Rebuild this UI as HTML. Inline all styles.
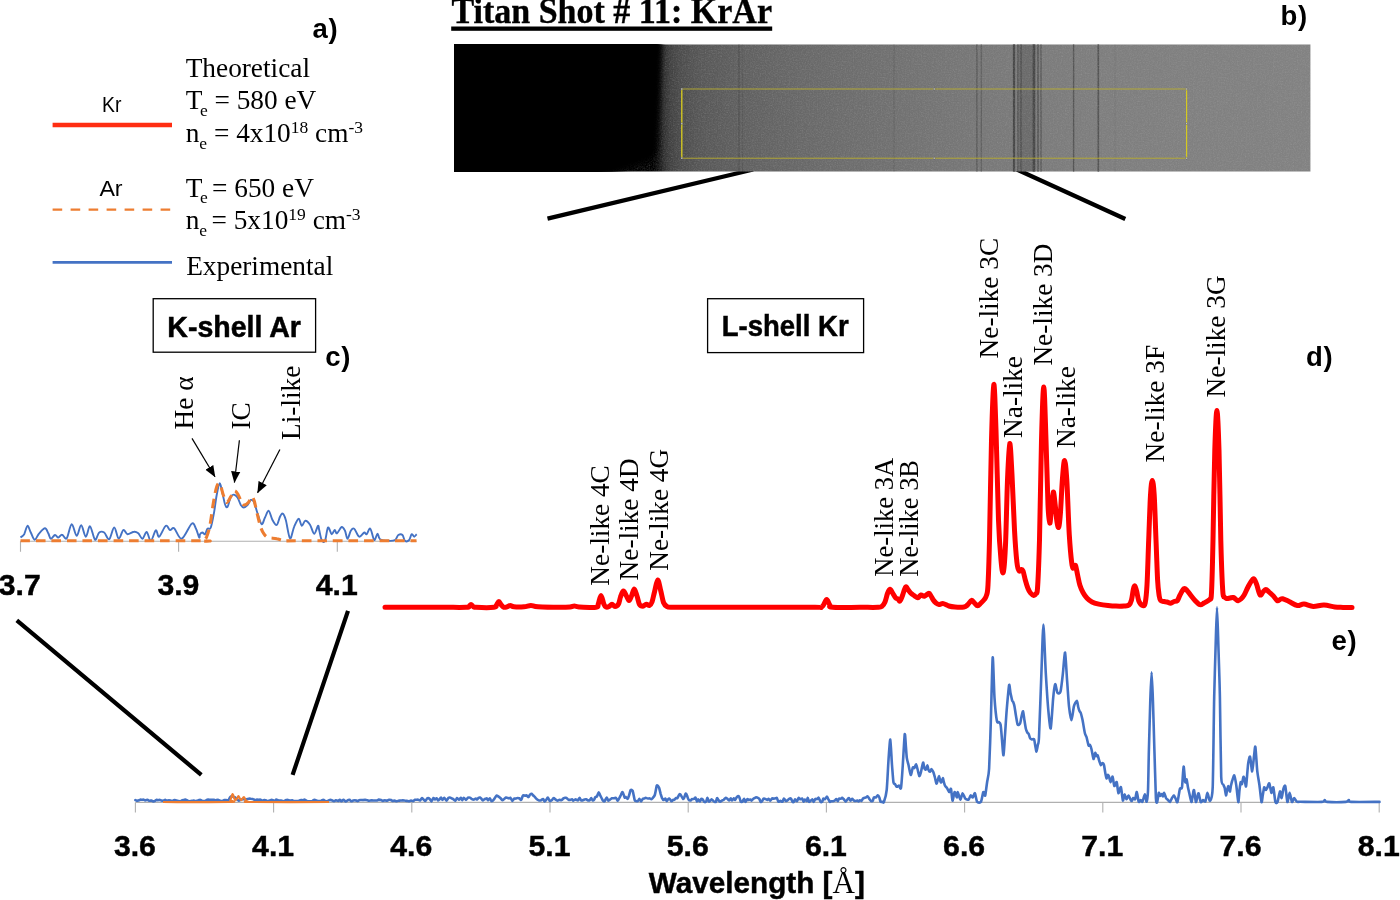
<!DOCTYPE html>
<html lang="en"><head><meta charset="utf-8"><title>Titan Shot # 11: KrAr</title>
<style>html,body{margin:0;padding:0;background:#fff;overflow:hidden}svg{display:block}</style></head>
<body>
<svg width="1400" height="900" viewBox="0 0 1400 900">
<defs>
<linearGradient id="gstrip" gradientUnits="userSpaceOnUse" x1="654" y1="0" x2="1310" y2="0">
<stop offset="0.0000" stop-color="#000000"/><stop offset="0.0076" stop-color="#141414"/><stop offset="0.0152" stop-color="#303030"/><stop offset="0.0244" stop-color="#404040"/><stop offset="0.0396" stop-color="#4c4c4c"/><stop offset="0.0701" stop-color="#575757"/><stop offset="0.1311" stop-color="#606060"/><stop offset="0.2226" stop-color="#686868"/><stop offset="0.2988" stop-color="#6d6d6d"/><stop offset="0.4055" stop-color="#737373"/><stop offset="0.5274" stop-color="#797979"/><stop offset="0.6799" stop-color="#7e7e7e"/><stop offset="1.0000" stop-color="#828282"/>
</linearGradient>
<filter id="grain" x="0" y="0" width="100%" height="100%"><feTurbulence type="fractalNoise" baseFrequency="0.75" numOctaves="2" seed="3" result="n"/><feColorMatrix type="matrix" values="0 0 0 0 0.5  0 0 0 0 0.5  0 0 0 0 0.5  0.6 0.6 0.6 0 -0.75"/></filter>
<filter id="soft"><feGaussianBlur stdDeviation="2.6"/></filter><filter id="soft1"><feGaussianBlur stdDeviation="1"/></filter><filter id="soft2"><feGaussianBlur stdDeviation="0.5"/></filter>
<clipPath id="cstrip"><rect x="454.2" y="44.4" width="856.2" height="127.1"/></clipPath>
<marker id="ah" markerWidth="12" markerHeight="10" refX="11" refY="5" orient="auto" markerUnits="userSpaceOnUse"><path d="M0,0.4L11.5,5L0,9.6Z" fill="#000"/></marker>
</defs>
<rect width="1400" height="900" fill="#fff"/>
<text x="451.4" y="23.2" font-family="Liberation Serif, serif" font-weight="bold" font-size="35.3" stroke="#000" stroke-width="0.35" textLength="320.6" lengthAdjust="spacingAndGlyphs">Titan Shot # 11: KrAr</text>
<rect x="451.2" y="26.5" width="321" height="4.3" fill="#000"/>
<text x="1280.6" y="25.3" font-family="Liberation Sans, sans-serif" font-weight="bold" font-size="27.5" letter-spacing="0.7">b)</text>
<text x="312.4" y="38.2" font-family="Liberation Sans, sans-serif" font-weight="bold" font-size="27.5" letter-spacing="0.7">a)</text>
<text x="325.2" y="366" font-family="Liberation Sans, sans-serif" font-weight="bold" font-size="27.5" letter-spacing="0.7">c)</text>
<text x="1306" y="366.4" font-family="Liberation Sans, sans-serif" font-weight="bold" font-size="27.5" letter-spacing="0.7">d)</text>
<text x="1331.6" y="649.6" font-family="Liberation Sans, sans-serif" font-weight="bold" font-size="27.5" letter-spacing="0.7">e)</text>
<path d="M753.2,169.5L547.5,218.6M1013.8,168.1L1125.3,219" stroke="#000" stroke-width="4.3" fill="none"/>
<g clip-path="url(#cstrip)">
<rect x="454" y="44" width="857" height="128" fill="url(#gstrip)"/>
<g filter="url(#soft2)">
<rect x="738.0" y="30" width="2" height="160" fill="#000" opacity="0.1"/>
<rect x="742.0" y="30" width="1" height="160" fill="#000" opacity="0.08"/>
<rect x="893.4" y="30" width="1.2" height="160" fill="#000" opacity="0.1"/>
<rect x="976.3" y="30" width="1.2" height="160" fill="#000" opacity="0.28"/>
<rect x="980.7" y="30" width="1.2" height="160" fill="#000" opacity="0.22"/>
<rect x="1012.9" y="30" width="2.2" height="160" fill="#000" opacity="0.42"/>
<rect x="1017.2" y="30" width="1.5" height="160" fill="#000" opacity="0.3"/>
<rect x="1020.4" y="30" width="1.2" height="160" fill="#000" opacity="0.3"/>
<rect x="1019.0" y="30" width="14" height="160" fill="#000" opacity="0.13"/>
<rect x="1032.7" y="30" width="2.6" height="160" fill="#000" opacity="0.42"/>
<rect x="1037.2" y="30" width="1.6" height="160" fill="#000" opacity="0.3"/>
<rect x="1040.3" y="30" width="1.4" height="160" fill="#000" opacity="0.26"/>
<rect x="1072.9" y="30" width="1.4" height="160" fill="#000" opacity="0.32"/>
<rect x="1097.5" y="30" width="1.6" height="160" fill="#000" opacity="0.34"/>
<rect x="1114.5" y="30" width="1" height="160" fill="#000" opacity="0.06"/>
</g>
<rect x="454" y="44" width="857" height="128" filter="url(#grain)" opacity="0.38"/>
<path d="M440,30H662L659.5,100L657,148Q656.5,158 646,162L610,174.5H440Z" fill="#000" filter="url(#soft)"/>
<path d="M440,30H656.5L654,100L651.5,144Q651,154 640,158L596,174H440Z" fill="#000" filter="url(#soft1)"/>
<rect x="681.8" y="89" width="504.8" height="69.2" fill="none" stroke="#b9ad2f" stroke-width="0.9"/>
<path d="M681.8,89V158.2M1186.6,89V158.2" stroke="#d8cc20" stroke-width="1.1" fill="none"/>
<circle cx="934.2" cy="89" r="0.9" fill="#ddd" stroke="#444" stroke-width="0.4"/>
<circle cx="934.2" cy="158.2" r="0.9" fill="#ddd" stroke="#444" stroke-width="0.4"/>
<circle cx="681.8" cy="123.6" r="0.9" fill="#ddd" stroke="#444" stroke-width="0.4"/>
<circle cx="1186.6" cy="123.6" r="0.9" fill="#ddd" stroke="#444" stroke-width="0.4"/>
<circle cx="681.8" cy="89" r="0.9" fill="#ddd" stroke="#444" stroke-width="0.4"/>
<circle cx="681.8" cy="158.2" r="0.9" fill="#ddd" stroke="#444" stroke-width="0.4"/>
<circle cx="1186.6" cy="89" r="0.9" fill="#ddd" stroke="#444" stroke-width="0.4"/>
<circle cx="1186.6" cy="158.2" r="0.9" fill="#ddd" stroke="#444" stroke-width="0.4"/>
</g>
<path d="M16.8,620.3L201.3,774.8M348,610.8L292.6,774.8" stroke="#000" stroke-width="4.2" fill="none"/>
<path d="M52.6,125H172" stroke="#ff2e12" stroke-width="4.6"/>
<path d="M52.6,209.7H170.5" stroke="#ed7d31" stroke-width="2.3" stroke-dasharray="9.6 8.4"/>
<path d="M52.6,262.4H172" stroke="#4472c4" stroke-width="2.6"/>
<text x="102" y="111.6" font-family="Liberation Sans, sans-serif" font-size="22.5" textLength="19.4" lengthAdjust="spacingAndGlyphs">Kr</text>
<text x="99.4" y="195.8" font-family="Liberation Sans, sans-serif" font-size="22.5" textLength="23.2" lengthAdjust="spacingAndGlyphs">Ar</text>
<text x="185.7" y="76.9" font-family="Liberation Serif, serif" font-size="27.3">Theoretical</text>
<text x="185.7" y="109" font-family="Liberation Serif, serif" font-size="27.3">T<tspan font-size="17.5" dy="6.5" dx="-2.5">e</tspan><tspan dy="-6.5"> = 580 eV</tspan></text>
<text x="185.7" y="142.4" font-family="Liberation Serif, serif" font-size="27.3">n<tspan font-size="17.5" dy="6.5">e</tspan><tspan dy="-6.5"> = 4x10</tspan><tspan font-size="17.5" dy="-9">18</tspan><tspan dy="9"> cm</tspan><tspan font-size="17.5" dy="-9">-3</tspan></text>
<text x="185.7" y="196.8" font-family="Liberation Serif, serif" font-size="27.3">T<tspan font-size="17.5" dy="6.5" dx="-2.5">e </tspan><tspan dy="-6.5">= 650 eV</tspan></text>
<text x="185.7" y="229.2" font-family="Liberation Serif, serif" font-size="27.3">n<tspan font-size="17.5" dy="6.5">e </tspan><tspan dy="-6.5">= 5x10</tspan><tspan font-size="17.5" dy="-9">19</tspan><tspan dy="9"> cm</tspan><tspan font-size="17.5" dy="-9">-3</tspan></text>
<text x="186.2" y="274.7" font-family="Liberation Serif, serif" font-size="27.3">Experimental</text>
<rect x="153.2" y="298.7" width="162.4" height="53.5" fill="#fff" stroke="#000" stroke-width="1.3"/>
<text x="167.3" y="336.6" font-family="Liberation Sans, sans-serif" font-weight="bold" font-size="29" stroke="#000" stroke-width="0.5" textLength="133.6" lengthAdjust="spacingAndGlyphs">K-shell Ar</text>
<rect x="707.6" y="298.7" width="156" height="53.9" fill="#fff" stroke="#000" stroke-width="1.3"/>
<text x="721.8" y="336.4" font-family="Liberation Sans, sans-serif" font-weight="bold" font-size="29" stroke="#000" stroke-width="0.5" textLength="126.8" lengthAdjust="spacingAndGlyphs">L-shell Kr</text>
<text transform="translate(192.9,429.5) rotate(-90)" font-family="Liberation Serif, serif" font-size="27.3">He α</text>
<text transform="translate(250,429.5) rotate(-90)" font-family="Liberation Serif, serif" font-size="27.3">IC</text>
<text transform="translate(300,440.0) rotate(-90)" font-family="Liberation Serif, serif" font-size="27.3">Li-like</text>
<text transform="translate(609.3,585.7) rotate(-90)" font-family="Liberation Serif, serif" font-size="27.3">Ne-like 4C</text>
<text transform="translate(638.3,580.4) rotate(-90)" font-family="Liberation Serif, serif" font-size="27.3">Ne-like 4D</text>
<text transform="translate(667.5,570.8) rotate(-90)" font-family="Liberation Serif, serif" font-size="27.3">Ne-like 4G</text>
<text transform="translate(892.9,576.7) rotate(-90)" font-family="Liberation Serif, serif" font-size="27.3" textLength="118.9" lengthAdjust="spacingAndGlyphs">Ne-like 3A</text>
<text transform="translate(918.2,576.7) rotate(-90)" font-family="Liberation Serif, serif" font-size="27.3" textLength="116.7" lengthAdjust="spacingAndGlyphs">Ne-like 3B</text>
<text transform="translate(998.4,358.4) rotate(-90)" font-family="Liberation Serif, serif" font-size="27.3">Ne-like 3C</text>
<text transform="translate(1022.1,437.9) rotate(-90)" font-family="Liberation Serif, serif" font-size="27.3">Na-like</text>
<text transform="translate(1051.9,365.6) rotate(-90)" font-family="Liberation Serif, serif" font-size="27.3">Ne-like 3D</text>
<text transform="translate(1074.7,448.0) rotate(-90)" font-family="Liberation Serif, serif" font-size="27.3">Na-like</text>
<text transform="translate(1163.8,462.4) rotate(-90)" font-family="Liberation Serif, serif" font-size="27.3">Ne-like 3F</text>
<text transform="translate(1225.3,397.4) rotate(-90)" font-family="Liberation Serif, serif" font-size="27.3">Ne-like 3G</text>
<g stroke="#000" stroke-width="1.2" fill="none" marker-end="url(#ah)"><path d="M192,438.4L215,476.8"/><path d="M239.4,440.2L234.4,482.5"/><path d="M279.9,449.5L257.6,492.8"/></g>
<path d="M20.5,541.2H416.7M20.5,541.2V551.7M178.6,541.2V551.7M337.3,541.2V551.7" stroke="#b0b0b0" stroke-width="1.1" fill="none"/>
<path d="M20.5,537.5C21.1,536.9 23.0,536.1 24.2,534.2C25.3,532.2 26.4,526.1 27.5,525.8C28.6,525.6 29.6,530.2 30.8,532.5C32.0,534.8 33.3,539.5 34.7,539.7C36.1,539.8 37.4,535.2 39.2,533.3C40.9,531.4 43.5,528.3 45.0,528.3C46.5,528.3 47.4,531.6 48.3,533.3C49.3,535.1 49.7,538.4 50.8,538.7C51.9,538.9 53.8,535.2 55.0,535.0C56.2,534.8 57.2,537.6 58.3,537.5C59.5,537.4 60.6,534.5 62.0,534.7C63.4,534.8 65.1,540.1 66.7,538.3C68.3,536.6 70.0,524.6 71.7,524.2C73.3,523.8 75.1,535.6 76.7,535.8C78.2,536.0 79.6,525.2 81.2,525.3C82.7,525.5 84.4,536.5 85.8,536.7C87.3,536.8 88.5,525.8 90.0,526.3C91.5,526.8 93.5,538.6 95.0,539.7C96.5,540.7 97.6,533.7 99.2,532.5C100.7,531.3 102.5,531.4 104.2,532.5C105.8,533.6 107.5,540.0 109.2,539.2C110.8,538.3 112.6,527.6 114.2,527.5C115.8,527.4 117.1,538.2 118.7,538.7C120.2,539.1 121.9,530.8 123.3,530.0C124.8,529.2 125.7,533.9 127.5,534.2C129.3,534.4 132.4,531.8 134.2,531.7C136.0,531.5 136.9,532.2 138.3,533.3C139.7,534.5 141.1,538.9 142.5,538.7C143.9,538.4 145.3,531.6 146.7,532.0C148.1,532.4 149.3,541.1 150.8,540.8C152.4,540.6 154.4,531.0 155.8,530.3C157.2,529.6 157.5,537.4 159.2,536.7C160.8,535.9 164.0,526.9 165.8,525.8C167.6,524.7 168.6,529.6 170.0,530.0C171.4,530.4 172.2,526.9 174.2,528.3C176.1,529.8 178.8,539.4 181.7,538.7C184.6,537.9 189.3,525.4 191.7,523.7C194.0,521.9 194.6,526.0 195.8,528.3C197.1,530.6 198.5,536.5 199.2,537.5C199.9,538.5 199.4,535.0 200.0,534.2C200.6,533.3 201.7,532.5 202.5,532.5C203.3,532.5 204.2,534.8 205.0,534.2C205.8,533.5 206.5,529.8 207.5,528.7C208.5,527.6 209.7,530.3 210.8,527.5C211.9,524.7 213.2,517.1 214.2,511.7C215.1,506.2 215.8,499.7 216.7,495.0C217.6,490.3 218.7,483.6 219.7,483.3C220.6,483.1 221.6,489.9 222.5,493.3C223.4,496.8 224.2,501.9 225.0,504.2C225.8,506.4 226.5,508.2 227.5,507.0C228.5,505.8 229.7,498.7 230.8,496.7C231.9,494.6 233.1,494.5 234.2,494.7C235.3,494.8 236.4,495.8 237.5,497.5C238.6,499.2 239.8,503.3 240.8,505.0C241.9,506.7 242.6,507.5 243.7,507.5C244.8,507.5 246.3,506.2 247.5,505.0C248.7,503.8 249.7,500.4 250.8,500.0C251.9,499.6 253.1,500.3 254.2,502.5C255.3,504.7 256.2,509.7 257.5,513.3C258.8,516.9 260.4,523.5 261.7,524.2C262.9,524.9 263.8,519.7 265.0,517.5C266.2,515.3 267.4,510.4 268.7,510.8C269.9,511.2 271.2,517.6 272.5,520.0C273.8,522.4 275.4,525.6 276.7,525.0C277.9,524.4 279.0,518.6 280.0,516.7C281.0,514.8 281.9,513.1 282.8,513.7C283.8,514.2 284.6,515.9 285.8,520.0C287.0,524.1 288.6,537.2 290.0,538.3C291.4,539.4 292.7,529.9 294.2,526.7C295.6,523.4 297.4,518.8 298.7,518.7C299.9,518.5 300.6,525.5 301.7,525.8C302.8,526.2 303.9,521.0 305.3,520.8C306.7,520.6 308.5,522.5 310.0,524.7C311.5,526.8 312.8,533.5 314.2,533.7C315.5,533.9 317.2,526.4 318.0,525.8C318.8,525.2 318.6,527.6 319.2,530.0C319.8,532.4 320.7,538.2 321.7,540.0C322.6,541.8 323.9,542.9 325.0,540.8C326.1,538.8 326.9,528.6 328.0,527.5C329.1,526.4 330.6,533.8 331.7,534.2C332.8,534.6 333.8,530.1 334.7,530.0C335.6,529.9 335.8,533.8 337.0,533.3C338.2,532.8 340.3,527.4 341.7,527.0C343.0,526.6 344.0,528.9 345.0,530.8C346.0,532.8 346.5,538.7 347.5,538.7C348.5,538.7 349.7,532.5 350.8,530.8C351.9,529.2 352.8,527.7 354.2,528.7C355.6,529.6 357.5,536.0 359.2,536.7C360.8,537.3 362.9,532.9 364.2,532.5C365.4,532.1 365.6,534.8 366.7,534.2C367.7,533.5 369.1,527.7 370.3,528.7C371.6,529.6 373.0,539.2 374.2,540.0C375.4,540.8 376.5,533.8 377.5,533.7C378.5,533.5 378.2,538.0 380.0,539.2C381.8,540.4 385.8,540.7 388.3,540.8C390.8,541.0 393.3,541.0 395.0,540.0C396.7,539.0 397.1,535.8 398.3,535.0C399.6,534.2 401.4,534.0 402.5,535.0C403.6,536.0 403.9,540.0 405.0,540.8C406.1,541.7 408.1,541.1 409.2,540.0C410.3,538.9 410.8,534.7 411.7,534.2C412.5,533.6 413.3,536.7 414.2,536.7C415.0,536.7 416.2,534.6 416.7,534.2" stroke="#4472c4" stroke-width="1.9" fill="none" stroke-linejoin="round"/>
<path d="M20.5,540.8C49.6,540.8 164.7,540.8 195.0,540.8C225.3,540.8 200.6,541.5 202.5,540.8C204.4,540.1 205.4,539.3 206.7,536.7C207.9,534.0 208.9,530.6 210.0,525.0C211.1,519.4 212.2,509.7 213.3,503.3C214.4,496.9 215.6,489.9 216.7,486.7C217.8,483.5 218.9,482.8 220.0,484.2C221.1,485.6 222.2,491.9 223.3,495.0C224.4,498.1 225.4,502.2 226.7,502.5C227.9,502.8 229.5,498.6 230.8,496.7C232.1,494.7 233.2,491.1 234.5,490.8C235.8,490.6 237.1,493.1 238.3,495.0C239.5,496.9 240.7,500.8 241.7,502.5C242.6,504.2 243.1,505.0 244.2,505.0C245.3,505.0 247.1,503.9 248.3,502.5C249.6,501.1 250.7,496.9 251.7,496.7C252.6,496.4 253.2,497.8 254.2,500.8C255.1,503.9 256.4,510.6 257.5,515.0C258.6,519.4 259.7,524.3 260.8,527.5C261.9,530.7 262.9,532.5 264.2,534.2C265.4,535.8 266.2,536.8 268.3,537.5C270.4,538.2 273.9,538.1 276.7,538.7C279.4,539.2 281.1,540.5 285.0,540.8C288.9,541.2 278.1,540.8 300.0,540.8C321.9,540.8 397.1,540.8 416.5,540.8" stroke="#ed7d31" stroke-width="3.1" fill="none" stroke-dasharray="9.6 5.9" stroke-linejoin="round"/>
<text x="19.8" y="594.7" font-family="Liberation Sans, sans-serif" font-weight="bold" font-size="30.2" stroke="#000" stroke-width="0.45" text-anchor="middle">3.7</text><text x="178.4" y="594.7" font-family="Liberation Sans, sans-serif" font-weight="bold" font-size="30.2" stroke="#000" stroke-width="0.45" text-anchor="middle">3.9</text><text x="336.7" y="594.7" font-family="Liberation Sans, sans-serif" font-weight="bold" font-size="30.2" stroke="#000" stroke-width="0.45" text-anchor="middle">4.1</text>
<path d="M135.4,802.4H1379.5M135.4,802.4V812.6M273.6,802.4V812.6M411.8,802.4V812.6M550.0,802.4V812.6M688.2,802.4V812.6M826.4,802.4V812.6M964.6,802.4V812.6M1102.8,802.4V812.6M1241.0,802.4V812.6M1379.2,802.4V812.6" stroke="#b0b0b0" stroke-width="1.1" fill="none"/>
<text x="134.9" y="856.2" font-family="Liberation Sans, sans-serif" font-weight="bold" font-size="30.2" stroke="#000" stroke-width="0.45" text-anchor="middle">3.6</text><text x="273.1" y="856.2" font-family="Liberation Sans, sans-serif" font-weight="bold" font-size="30.2" stroke="#000" stroke-width="0.45" text-anchor="middle">4.1</text><text x="411.3" y="856.2" font-family="Liberation Sans, sans-serif" font-weight="bold" font-size="30.2" stroke="#000" stroke-width="0.45" text-anchor="middle">4.6</text><text x="549.5" y="856.2" font-family="Liberation Sans, sans-serif" font-weight="bold" font-size="30.2" stroke="#000" stroke-width="0.45" text-anchor="middle">5.1</text><text x="687.7" y="856.2" font-family="Liberation Sans, sans-serif" font-weight="bold" font-size="30.2" stroke="#000" stroke-width="0.45" text-anchor="middle">5.6</text><text x="825.9" y="856.2" font-family="Liberation Sans, sans-serif" font-weight="bold" font-size="30.2" stroke="#000" stroke-width="0.45" text-anchor="middle">6.1</text><text x="964.1" y="856.2" font-family="Liberation Sans, sans-serif" font-weight="bold" font-size="30.2" stroke="#000" stroke-width="0.45" text-anchor="middle">6.6</text><text x="1102.3" y="856.2" font-family="Liberation Sans, sans-serif" font-weight="bold" font-size="30.2" stroke="#000" stroke-width="0.45" text-anchor="middle">7.1</text><text x="1240.5" y="856.2" font-family="Liberation Sans, sans-serif" font-weight="bold" font-size="30.2" stroke="#000" stroke-width="0.45" text-anchor="middle">7.6</text><text x="1378.7" y="856.2" font-family="Liberation Sans, sans-serif" font-weight="bold" font-size="30.2" stroke="#000" stroke-width="0.45" text-anchor="middle">8.1</text>
<text x="648.8" y="893.3" font-family="Liberation Sans, sans-serif" font-weight="bold" font-size="29.6" stroke="#000" stroke-width="0.45" textLength="216" lengthAdjust="spacingAndGlyphs">Wavelength [<tspan font-family="Liberation Serif, serif" font-weight="normal" stroke="none" font-size="31">Å</tspan>]</text>
<path d="M135.4,800.2C135.6,800.3 136.6,800.7 136.9,800.8C137.2,800.8 137.9,800.7 138.3,800.6C138.7,800.4 139.6,799.8 140.1,799.7C140.5,799.6 141.5,799.7 142.0,799.7C142.4,799.7 143.4,799.6 143.8,799.7C144.2,799.8 144.8,800.4 145.2,800.4C145.7,800.4 147.1,799.8 147.5,799.8C148.0,799.9 148.6,800.6 149.1,800.7C149.6,800.8 151.0,800.6 151.5,800.6C152.0,800.7 152.9,801.3 153.3,801.4C153.6,801.4 154.3,801.3 154.7,801.1C155.0,801.0 156.0,800.0 156.3,799.9C156.7,799.7 157.4,800.1 157.8,800.2C158.2,800.2 159.5,799.9 160.0,799.9C160.5,800.0 161.6,800.7 162.0,800.8C162.5,800.8 163.4,800.7 163.8,800.6C164.2,800.5 164.8,799.7 165.2,799.7C165.5,799.7 166.4,800.8 166.8,800.8C167.2,800.9 168.1,800.2 168.6,800.2C169.0,800.1 170.1,800.3 170.6,800.4C171.0,800.5 171.8,801.1 172.2,801.0C172.7,801.0 173.9,800.1 174.4,800.0C174.9,800.0 175.9,800.4 176.4,800.5C176.9,800.6 178.2,800.8 178.7,800.9C179.2,801.0 180.0,801.4 180.3,801.4C180.7,801.3 181.4,800.5 181.8,800.4C182.2,800.2 183.5,800.0 184.0,799.9C184.5,799.8 185.4,799.5 185.9,799.7C186.4,799.8 187.5,800.8 188.0,801.0C188.5,801.2 189.5,801.2 190.0,801.2C190.4,801.2 191.2,800.9 191.7,800.9C192.1,800.8 193.2,800.6 193.7,800.6C194.1,800.7 195.0,801.1 195.5,801.1C196.0,801.1 197.4,800.6 197.9,800.5C198.4,800.3 199.5,799.7 200.0,799.7C200.5,799.7 201.6,800.6 202.1,800.8C202.7,800.9 204.1,801.1 204.6,801.1C205.1,801.0 205.8,800.5 206.2,800.3C206.7,800.1 207.9,799.7 208.3,799.6C208.8,799.6 209.8,799.9 210.2,799.9C210.6,799.9 211.2,799.7 211.7,799.7C212.1,799.7 213.4,799.8 213.9,799.8C214.3,799.9 215.0,800.3 215.5,800.3C215.9,800.3 217.3,799.7 217.8,799.7C218.3,799.8 219.2,800.4 219.6,800.6C220.1,800.7 221.4,801.1 222.0,801.1C222.5,801.0 223.8,800.2 224.3,800.1C224.8,800.0 225.6,800.1 226.1,800.1C226.6,800.1 228.0,800.6 228.4,800.3C228.9,800.0 229.6,798.0 229.9,797.6C230.3,797.1 231.1,796.4 231.5,796.3C231.9,796.2 233.0,796.8 233.4,796.9C233.8,797.0 234.6,796.9 235.0,797.2C235.4,797.5 236.4,798.8 236.9,799.2C237.3,799.6 238.4,800.6 238.8,800.7C239.3,800.7 240.5,799.7 240.9,799.5C241.4,799.4 242.6,799.3 243.0,799.3C243.4,799.2 244.0,799.4 244.4,799.4C244.8,799.4 246.1,799.3 246.6,799.2C247.1,799.1 248.4,798.8 248.8,798.7C249.3,798.6 250.2,798.6 250.6,798.7C251.1,798.7 252.3,799.0 252.7,799.1C253.1,799.2 253.7,799.5 254.1,799.6C254.4,799.8 255.3,800.1 255.6,800.1C255.9,800.0 256.6,799.6 257.0,799.5C257.3,799.5 258.1,799.7 258.5,799.8C258.9,799.8 259.8,799.5 260.2,799.6C260.7,799.7 262.1,800.7 262.6,800.7C263.0,800.8 263.7,800.1 264.1,800.1C264.4,800.0 265.4,800.1 265.8,800.3C266.2,800.4 266.8,801.1 267.3,801.1C267.7,801.1 269.2,800.6 269.7,800.4C270.2,800.3 271.2,799.8 271.6,799.8C272.0,799.7 272.7,800.1 273.0,800.2C273.4,800.4 274.3,801.2 274.7,801.1C275.0,801.0 275.7,799.7 276.2,799.6C276.6,799.6 278.1,800.4 278.6,800.6C279.1,800.7 279.8,800.6 280.1,800.6C280.4,800.6 281.0,800.5 281.5,800.6C281.9,800.6 283.4,801.2 283.9,801.2C284.4,801.1 285.6,800.2 286.0,800.1C286.5,799.9 287.3,799.8 287.8,799.9C288.2,800.0 289.5,800.5 290.0,800.6C290.5,800.6 291.8,800.1 292.2,800.2C292.6,800.3 293.3,801.0 293.8,801.1C294.3,801.2 295.7,801.1 296.2,801.1C296.8,801.1 298.0,801.2 298.5,801.1C299.0,800.9 300.2,800.1 300.7,800.0C301.1,799.9 302.2,800.3 302.6,800.2C303.0,800.2 303.6,799.7 303.9,799.7C304.3,799.6 305.2,799.9 305.6,800.1C306.0,800.3 307.3,801.2 307.7,801.3C308.2,801.5 309.1,801.3 309.6,801.3C310.1,801.3 311.5,801.5 312.0,801.3C312.5,801.2 313.4,800.2 313.8,800.0C314.1,799.8 315.0,799.9 315.3,800.0C315.7,800.0 316.5,800.6 316.9,800.7C317.4,800.9 318.8,801.1 319.3,801.1C319.8,801.1 320.7,800.9 321.1,800.8C321.6,800.6 322.9,799.7 323.4,799.8C323.9,799.8 325.0,801.1 325.5,801.2C326.0,801.4 327.2,801.1 327.7,801.0C328.2,800.8 329.1,800.0 329.6,799.9C330.0,799.8 331.3,800.0 331.8,800.2C332.3,800.4 333.6,801.3 334.0,801.3C334.5,801.4 335.3,800.4 335.8,800.3C336.3,800.3 337.8,801.0 338.2,800.9C338.7,800.8 339.4,799.8 339.7,799.8C340.1,799.9 340.8,801.2 341.3,801.2C341.7,801.2 343.0,799.8 343.5,799.9C344.0,799.9 345.3,801.3 345.8,801.4C346.3,801.4 347.4,800.4 347.9,800.2C348.3,800.1 349.4,799.7 349.8,799.8C350.2,800.0 350.8,801.3 351.2,801.3C351.6,801.4 352.7,800.7 353.2,800.5C353.7,800.4 355.1,800.3 355.6,800.4C356.2,800.4 357.5,801.1 357.9,801.1C358.4,801.0 359.1,800.2 359.5,800.1C359.9,799.9 360.8,800.0 361.2,800.0C361.6,800.0 362.7,800.1 363.2,800.1C363.6,800.0 364.5,799.8 365.0,799.8C365.5,799.9 366.9,800.1 367.4,800.2C367.8,800.3 368.7,800.6 369.2,800.7C369.7,800.7 371.0,800.4 371.6,800.4C372.1,800.3 373.4,800.5 373.9,800.5C374.4,800.5 375.5,800.6 375.9,800.5C376.3,800.5 376.9,800.5 377.2,800.4C377.6,800.3 378.3,799.7 378.8,799.6C379.2,799.6 380.5,799.8 381.0,799.9C381.5,800.1 382.4,800.9 382.9,800.9C383.3,800.9 384.4,800.2 384.8,800.2C385.3,800.2 386.3,800.6 386.8,800.6C387.2,800.6 388.5,799.9 389.0,799.8C389.5,799.7 390.5,799.9 391.0,800.0C391.4,800.2 392.2,800.9 392.6,801.0C393.0,801.1 394.0,800.6 394.5,800.6C395.0,800.6 396.2,801.2 396.7,801.2C397.2,801.3 398.1,800.8 398.5,800.7C399.0,800.6 400.0,800.6 400.4,800.5C400.9,800.5 402.1,800.4 402.6,800.4C403.0,800.4 404.0,800.4 404.5,800.5C405.0,800.5 406.4,800.8 406.9,800.9C407.5,801.0 408.8,801.3 409.2,801.3C409.7,801.3 410.4,800.6 410.9,800.6C411.3,800.6 412.8,801.2 413.3,801.1C413.7,801.0 414.4,800.0 414.8,799.8C415.1,799.7 416.2,799.7 416.6,799.7C417.0,799.7 417.8,799.6 418.2,799.7C418.6,799.8 419.5,800.7 420.0,800.5C420.5,800.3 421.6,798.1 422.1,798.0C422.6,798.0 423.6,799.7 424.0,800.0C424.4,800.4 425.0,801.1 425.4,800.9C425.8,800.7 427.0,798.5 427.5,798.3C428.0,798.1 429.3,798.6 429.7,799.0C430.1,799.4 431.0,801.5 431.4,801.4C431.8,801.2 433.0,798.3 433.4,798.0C433.9,797.8 434.7,799.4 435.1,799.5C435.4,799.5 436.2,798.1 436.6,798.2C436.9,798.3 437.8,800.1 438.1,800.3C438.4,800.5 439.0,799.9 439.3,799.6C439.6,799.3 440.6,797.4 441.0,797.5C441.3,797.5 442.1,799.9 442.5,799.9C442.9,799.9 443.7,797.6 444.2,797.7C444.7,797.7 445.9,800.5 446.4,800.6C446.9,800.6 448.1,798.2 448.6,797.8C449.0,797.5 449.6,797.5 450.0,797.6C450.4,797.6 451.6,798.3 452.0,798.5C452.4,798.7 452.9,798.8 453.3,799.1C453.7,799.3 455.0,800.8 455.5,800.7C455.9,800.5 456.5,798.1 456.9,798.0C457.3,797.9 458.6,799.7 459.0,799.7C459.5,799.7 460.6,797.7 460.9,797.8C461.3,797.8 461.9,800.2 462.2,800.2C462.5,800.1 463.4,797.7 463.8,797.7C464.3,797.7 465.5,799.9 466.0,799.9C466.4,799.9 467.5,798.0 468.0,797.7C468.4,797.5 469.6,797.5 470.0,797.7C470.5,797.8 471.7,799.0 472.1,799.2C472.5,799.4 473.2,799.7 473.6,799.6C474.1,799.5 475.4,798.5 475.8,798.5C476.2,798.5 476.8,799.6 477.1,799.5C477.4,799.4 478.2,798.1 478.5,797.8C478.9,797.6 479.6,797.5 479.9,797.6C480.2,797.7 480.9,798.3 481.3,798.6C481.6,799.0 482.4,800.4 482.8,800.4C483.1,800.5 483.9,799.6 484.3,799.4C484.6,799.2 485.3,798.9 485.6,798.8C485.9,798.7 486.6,798.2 486.8,798.4C487.1,798.6 487.7,800.4 488.1,800.3C488.4,800.3 489.4,798.1 489.8,798.2C490.2,798.3 491.1,800.8 491.5,801.1C491.8,801.4 492.4,800.9 492.8,800.6C493.1,800.4 494.0,799.4 494.4,798.8C494.8,798.2 496.0,795.9 496.5,795.6C496.9,795.3 497.7,796.0 498.2,796.3C498.6,796.6 499.9,797.5 500.4,798.0C500.8,798.4 501.9,800.1 502.4,800.2C502.8,800.3 503.8,799.3 504.2,799.0C504.6,798.7 505.4,797.8 505.8,797.6C506.1,797.5 506.7,797.6 507.1,797.7C507.5,797.8 508.7,798.4 509.0,798.4C509.4,798.4 510.0,797.5 510.4,797.7C510.8,798.0 512.0,800.8 512.4,800.9C512.9,801.0 513.9,798.8 514.3,798.5C514.7,798.3 515.4,798.6 515.8,798.6C516.1,798.5 517.0,798.0 517.4,798.0C517.8,798.0 518.6,798.0 519.1,798.2C519.5,798.4 520.8,800.2 521.2,799.8C521.7,799.5 522.5,795.8 523.0,795.3C523.4,794.9 524.7,795.6 525.2,795.6C525.6,795.6 526.3,795.2 526.7,795.4C527.1,795.6 527.9,797.2 528.3,797.1C528.7,797.0 529.6,795.1 530.0,794.7C530.4,794.3 531.3,793.6 531.7,793.7C532.1,793.8 532.8,795.1 533.2,795.4C533.5,795.8 534.4,796.4 534.8,796.8C535.1,797.1 535.7,798.0 536.0,798.4C536.3,798.7 537.0,799.5 537.4,799.7C537.8,799.9 538.7,800.3 539.1,800.4C539.5,800.5 540.5,800.4 541.0,800.3C541.4,800.1 542.6,798.8 543.1,799.0C543.5,799.1 544.3,801.2 544.6,801.3C544.9,801.5 545.6,800.7 545.9,800.3C546.3,799.9 547.3,797.5 547.8,797.6C548.2,797.7 549.4,800.6 549.8,801.0C550.3,801.3 551.2,800.7 551.7,800.3C552.1,800.0 553.2,798.1 553.7,798.0C554.1,797.9 555.0,799.1 555.4,799.4C555.8,799.7 557.0,800.6 557.4,800.6C557.9,800.7 559.0,799.8 559.5,799.7C560.0,799.7 561.1,800.3 561.6,800.1C562.0,800.0 563.1,798.6 563.5,798.3C563.8,798.1 564.4,798.0 564.7,797.9C565.0,797.9 565.8,797.6 566.2,797.8C566.7,798.0 567.8,799.4 568.3,799.6C568.7,799.9 569.7,799.9 570.1,799.9C570.6,799.9 571.6,799.3 572.0,799.4C572.4,799.4 572.8,800.6 573.2,800.6C573.6,800.6 574.7,799.5 575.2,799.4C575.6,799.3 576.5,799.9 576.9,800.0C577.2,800.1 577.8,800.6 578.1,800.3C578.5,800.1 579.3,797.7 579.6,797.7C579.9,797.7 580.7,800.0 581.1,800.3C581.4,800.6 582.0,800.5 582.5,800.4C582.9,800.2 584.2,799.5 584.6,799.4C585.1,799.3 585.8,799.2 586.2,799.3C586.6,799.4 587.7,800.4 588.1,800.5C588.5,800.5 589.6,800.3 589.9,800.0C590.3,799.7 590.9,797.9 591.2,798.0C591.5,798.0 592.3,800.2 592.6,800.4C593.0,800.6 593.8,800.0 594.1,799.6C594.5,799.2 595.0,797.4 595.3,797.1C595.7,796.7 596.4,797.2 596.8,796.6C597.2,796.1 598.3,792.6 598.7,792.4C599.1,792.3 599.8,794.6 600.2,795.4C600.6,796.1 601.5,798.1 601.9,798.7C602.2,799.4 602.9,800.6 603.2,800.9C603.5,801.2 604.1,801.7 604.6,801.3C605.0,800.9 606.3,797.5 606.7,797.5C607.1,797.4 607.9,800.5 608.4,800.7C608.8,800.9 610.1,799.5 610.5,799.2C611.0,798.9 611.6,798.4 612.0,798.2C612.4,798.1 613.7,798.3 614.2,798.2C614.6,798.2 615.5,797.6 615.9,797.9C616.4,798.2 617.3,800.7 617.7,800.8C618.0,800.9 618.6,799.4 619.0,798.7C619.3,798.1 620.3,796.0 620.7,795.3C621.1,794.5 622.1,791.8 622.6,792.1C623.1,792.4 624.3,797.0 624.7,797.6C625.1,798.1 625.6,796.8 625.9,797.0C626.3,797.1 627.2,799.1 627.6,798.9C628.0,798.7 628.8,796.3 629.1,795.3C629.5,794.2 630.2,790.5 630.7,790.0C631.1,789.5 632.2,789.8 632.7,790.9C633.2,792.1 634.3,798.9 634.7,800.1C635.0,801.2 635.6,800.9 636.0,801.1C636.4,801.2 637.5,801.3 637.9,801.0C638.3,800.8 639.0,798.8 639.4,798.9C639.7,798.9 640.6,801.4 641.0,801.4C641.4,801.4 642.4,799.2 642.8,798.8C643.2,798.5 644.1,798.6 644.4,798.5C644.7,798.4 645.2,797.8 645.6,797.8C646.0,797.8 647.2,798.5 647.7,798.5C648.2,798.6 649.4,798.3 649.8,798.4C650.2,798.5 650.9,799.3 651.3,799.3C651.6,799.3 652.2,798.6 652.7,798.1C653.1,797.6 654.3,796.5 654.8,795.0C655.3,793.5 656.4,786.5 656.8,785.6C657.3,784.7 658.5,786.5 659.0,787.5C659.4,788.5 660.4,792.9 660.7,794.1C661.1,795.3 661.6,797.3 662.0,798.0C662.3,798.7 663.2,800.0 663.6,800.0C664.0,800.1 665.1,798.4 665.4,798.5C665.8,798.6 666.4,801.0 666.7,801.1C667.0,801.2 667.7,799.6 668.0,799.3C668.3,799.0 669.1,798.4 669.5,798.6C670.0,798.8 671.1,801.1 671.5,801.3C671.9,801.5 672.6,800.2 672.9,800.0C673.3,799.8 674.1,799.9 674.4,799.6C674.8,799.4 675.7,798.2 676.0,798.1C676.4,797.9 677.0,798.5 677.4,798.1C677.8,797.6 679.1,794.5 679.5,794.2C679.9,793.8 680.5,794.7 680.9,795.2C681.3,795.8 682.7,798.8 683.1,799.0C683.5,799.2 684.2,797.5 684.5,796.8C684.8,796.2 685.4,793.7 685.7,793.6C686.0,793.4 686.7,794.8 687.0,795.5C687.3,796.2 688.1,799.0 688.5,799.5C688.9,800.1 690.1,800.5 690.6,800.4C691.0,800.3 691.8,799.2 692.2,799.1C692.6,798.9 693.5,799.1 693.9,798.9C694.3,798.7 695.1,797.4 695.4,797.6C695.8,797.9 696.6,801.1 696.9,801.3C697.2,801.5 697.9,799.4 698.2,799.4C698.6,799.4 699.6,801.6 700.0,801.5C700.4,801.4 701.0,799.1 701.3,798.9C701.6,798.7 702.3,799.1 702.7,799.5C703.0,799.8 703.8,801.7 704.2,801.9C704.6,802.1 705.8,802.0 706.2,801.5C706.5,801.1 707.0,797.8 707.3,797.8C707.7,797.9 708.7,801.4 709.1,801.6C709.5,801.9 710.4,800.5 710.7,800.3C711.0,800.0 711.4,799.3 711.8,799.4C712.2,799.5 713.4,801.0 713.8,801.3C714.3,801.6 715.4,802.3 715.8,802.0C716.1,801.6 716.8,798.4 717.1,798.2C717.4,797.9 718.0,799.6 718.4,800.0C718.7,800.4 719.7,801.8 720.2,801.8C720.6,801.9 721.5,800.8 722.0,800.5C722.4,800.3 723.4,800.0 723.8,799.7C724.2,799.4 725.1,798.0 725.5,797.9C725.9,797.8 726.9,798.4 727.3,798.7C727.8,799.0 728.9,800.6 729.3,800.5C729.7,800.5 730.4,798.3 730.8,798.3C731.1,798.3 731.8,800.5 732.1,800.5C732.5,800.5 733.6,798.3 733.9,798.2C734.3,798.1 734.8,800.0 735.1,799.9C735.4,799.8 736.4,797.6 736.8,797.1C737.1,796.7 737.8,796.0 738.1,796.0C738.4,795.9 738.9,796.1 739.2,796.8C739.6,797.5 740.4,801.2 740.8,801.8C741.2,802.3 742.2,801.9 742.5,801.6C742.9,801.2 743.8,798.7 744.1,798.7C744.5,798.8 745.1,801.9 745.5,801.9C745.8,802.0 746.9,799.3 747.3,799.1C747.6,798.8 748.1,799.8 748.4,799.9C748.8,800.0 749.8,799.5 750.2,799.5C750.5,799.6 751.2,800.8 751.6,800.6C751.9,800.5 753.2,798.8 753.6,798.5C753.9,798.2 754.4,798.3 754.7,798.1C755.0,798.0 755.9,797.4 756.2,797.3C756.6,797.3 757.2,797.4 757.5,797.6C757.9,797.8 759.0,798.5 759.4,799.0C759.7,799.5 760.4,801.6 760.7,801.8C761.0,802.1 761.8,801.7 762.1,801.3C762.4,800.9 763.1,798.9 763.5,798.7C763.8,798.4 764.8,798.9 765.3,799.0C765.8,799.1 766.9,799.9 767.3,799.9C767.7,799.8 768.3,798.6 768.6,798.7C769.0,798.8 769.7,800.7 770.2,800.6C770.6,800.6 771.8,798.6 772.2,798.3C772.6,798.1 773.3,798.6 773.7,798.6C774.1,798.6 775.4,798.4 775.7,798.3C776.1,798.2 776.6,797.6 776.9,798.0C777.2,798.4 778.0,801.3 778.4,801.7C778.8,802.0 779.9,800.9 780.4,800.9C780.8,800.9 782.0,802.1 782.5,801.8C782.9,801.5 783.5,798.6 783.9,798.5C784.3,798.4 785.5,800.7 785.9,801.0C786.3,801.2 786.8,800.8 787.1,800.6C787.4,800.4 788.2,799.6 788.5,799.3C788.9,799.1 789.7,798.5 790.0,798.4C790.3,798.4 790.8,798.5 791.1,798.9C791.4,799.3 792.2,801.6 792.6,801.9C792.9,802.3 793.5,802.3 793.8,801.9C794.1,801.6 794.7,799.3 795.1,799.3C795.5,799.2 796.6,801.5 797.0,801.3C797.4,801.2 798.2,798.1 798.6,797.9C798.9,797.7 799.7,799.3 800.1,799.3C800.6,799.4 801.7,798.3 802.1,798.5C802.5,798.8 803.3,801.5 803.6,801.6C803.9,801.8 804.4,799.6 804.8,799.5C805.1,799.4 806.3,801.3 806.7,801.1C807.0,800.9 807.5,797.8 807.8,797.9C808.1,797.9 808.7,801.4 809.0,801.7C809.3,802.1 810.0,801.3 810.4,801.0C810.8,800.7 812.0,799.1 812.3,799.2C812.7,799.3 813.4,802.0 813.7,801.9C814.1,801.9 815.0,799.2 815.4,798.9C815.9,798.5 816.9,799.2 817.2,799.1C817.6,799.0 818.3,797.4 818.6,797.7C819.0,798.0 820.1,801.3 820.5,801.7C820.9,802.2 821.9,802.2 822.2,801.8C822.5,801.5 823.0,798.8 823.4,798.5C823.7,798.2 824.5,799.5 824.9,799.3C825.3,799.0 826.6,796.5 827.0,796.5C827.4,796.5 828.0,798.6 828.3,799.2C828.7,799.8 829.6,801.5 829.9,801.8C830.3,802.0 830.8,801.3 831.2,801.2C831.6,801.2 832.6,801.4 833.0,801.3C833.5,801.2 834.5,800.6 834.9,800.4C835.3,800.1 836.0,799.0 836.3,799.1C836.7,799.2 837.5,801.2 837.8,801.1C838.1,801.1 838.6,798.8 839.0,798.6C839.4,798.3 840.5,798.9 840.8,798.8C841.2,798.7 841.7,797.8 842.0,797.8C842.4,797.9 843.2,798.7 843.7,799.1C844.1,799.6 845.3,801.6 845.7,801.6C846.2,801.6 847.4,799.3 847.8,798.9C848.2,798.5 848.7,797.9 849.0,798.1C849.3,798.4 850.2,800.8 850.6,800.8C851.0,800.9 851.8,798.8 852.2,798.7C852.5,798.7 853.3,800.2 853.7,800.4C854.1,800.7 855.0,801.0 855.4,801.0C855.9,801.0 857.0,800.6 857.4,800.6C857.7,800.7 858.3,801.4 858.6,801.4C858.9,801.3 859.7,800.2 860.0,800.2C860.3,800.1 861.2,801.1 861.5,800.9C861.8,800.8 862.5,799.1 862.8,798.7C863.1,798.4 863.8,798.1 864.2,797.9C864.5,797.8 865.7,797.6 866.1,797.4C866.5,797.2 867.2,796.1 867.6,796.3C868.0,796.5 869.2,798.7 869.6,799.3C870.0,799.8 870.6,800.8 871.0,801.0C871.3,801.1 872.4,801.3 872.7,800.9C873.1,800.5 873.6,797.7 873.9,797.4C874.3,797.0 875.4,797.8 875.8,797.5C876.3,797.3 877.4,795.3 877.8,795.2C878.2,795.1 878.9,796.3 879.2,797.0C879.6,797.8 880.2,801.0 880.5,801.6C880.9,802.1 881.8,801.7 882.2,801.7C882.6,801.8 883.4,803.4 883.9,802.0C884.4,800.6 886.2,794.9 886.7,790.0C887.2,785.1 888.1,765.9 888.5,760.0C888.9,754.1 889.9,739.0 890.3,739.6C890.7,740.2 891.6,760.0 892.0,765.0C892.4,770.0 893.1,780.3 893.5,782.5C893.9,784.7 894.6,783.5 895.0,784.0C895.4,784.5 896.3,786.6 896.8,786.8C897.3,787.0 898.5,785.4 899.0,785.5C899.5,785.6 900.6,790.3 901.0,787.9C901.4,785.5 902.4,771.3 902.8,765.0C903.2,758.7 904.4,736.6 904.7,734.3C905.1,732.0 905.6,742.2 905.8,745.0C906.0,747.8 906.5,755.6 906.8,757.9C907.1,760.2 908.0,763.0 908.5,765.0C909.0,767.0 910.2,774.7 910.7,775.0C911.2,775.3 912.4,768.3 912.8,767.5C913.2,766.7 913.9,768.4 914.3,768.0C914.7,767.6 915.6,764.2 916.0,764.3C916.4,764.4 917.1,767.6 917.5,769.0C917.9,770.4 918.9,775.6 919.3,776.0C919.7,776.4 920.6,773.6 921.0,772.0C921.4,770.4 922.7,763.1 923.1,762.6C923.5,762.1 924.0,767.2 924.3,768.0C924.6,768.8 925.3,769.9 925.7,769.6C926.1,769.3 927.1,765.4 927.4,765.4C927.7,765.4 928.2,769.3 928.5,770.0C928.8,770.7 929.6,771.9 930.0,771.8C930.4,771.7 931.1,769.0 931.5,769.0C931.9,769.0 932.8,770.9 933.2,771.8C933.6,772.7 934.4,775.6 934.8,777.0C935.2,778.4 936.0,783.2 936.4,783.6C936.8,784.0 937.5,780.9 937.8,780.0C938.1,779.1 938.7,776.0 939.0,776.0C939.3,776.0 939.8,779.2 940.0,780.0C940.2,780.8 940.8,782.7 941.1,782.5C941.4,782.3 942.5,778.3 942.8,778.2C943.1,778.1 943.5,781.1 943.8,782.0C944.1,782.9 944.6,785.0 945.0,785.7C945.4,786.4 946.5,787.3 947.0,788.0C947.5,788.7 948.8,792.0 949.3,792.1C949.8,792.2 950.6,787.9 951.0,788.9C951.4,789.9 952.1,800.3 952.5,800.7C952.9,801.1 954.1,792.5 954.6,792.1C955.1,791.7 956.4,797.5 956.8,797.5C957.2,797.5 957.4,791.9 957.8,792.1C958.2,792.3 959.8,799.5 960.4,799.6C961.0,799.7 962.0,793.3 962.6,793.2C963.2,793.1 964.6,797.9 965.3,798.6C966.0,799.3 968.0,800.0 968.6,799.6C969.2,799.2 970.2,795.6 970.7,795.4C971.2,795.2 972.3,797.8 972.8,797.5C973.3,797.2 974.4,792.7 974.9,793.2C975.4,793.7 976.4,800.8 977.1,801.8C977.8,802.8 980.3,802.9 981.0,801.8C981.7,800.7 982.8,792.7 983.3,792.0C983.8,791.3 984.8,796.7 985.2,795.6C985.6,794.5 986.6,785.3 987.1,782.2C987.6,779.1 988.7,775.7 989.1,768.7C989.5,761.7 990.4,735.3 990.8,722.3C991.2,709.3 992.3,660.4 992.7,657.5C993.1,654.6 994.0,690.4 994.5,697.8C995.0,705.2 996.4,718.2 996.9,721.0C997.4,723.8 998.4,721.6 998.8,722.0C999.2,722.4 1000.2,722.6 1000.6,724.7C1001.0,726.8 1001.7,736.4 1002.0,740.0C1002.3,743.6 1003.1,755.9 1003.5,755.3C1003.9,754.7 1004.6,740.3 1005.0,735.0C1005.4,729.7 1006.2,715.8 1006.7,710.0C1007.2,704.2 1008.7,687.1 1009.1,685.1C1009.5,683.1 1010.1,691.2 1010.5,693.0C1010.9,694.8 1011.8,699.2 1012.1,700.3C1012.4,701.3 1012.9,701.3 1013.2,702.0C1013.5,702.7 1014.2,704.8 1014.5,706.4C1014.8,708.0 1015.6,713.9 1016.0,716.0C1016.4,718.1 1017.2,723.8 1017.7,724.7C1018.2,725.6 1019.6,724.5 1020.1,723.5C1020.6,722.5 1021.2,717.4 1021.6,716.0C1022.0,714.6 1022.8,710.8 1023.1,711.3C1023.4,711.8 1024.1,718.0 1024.4,720.0C1024.7,722.0 1025.5,726.9 1025.8,728.4C1026.1,729.9 1027.0,731.8 1027.3,732.5C1027.6,733.2 1028.4,733.4 1028.7,734.0C1029.0,734.6 1029.7,737.4 1030.0,738.0C1030.3,738.6 1031.1,739.2 1031.6,739.4C1032.1,739.6 1033.7,738.6 1034.1,739.4C1034.5,740.2 1035.0,744.6 1035.3,746.0C1035.6,747.4 1036.2,751.7 1036.5,751.6C1036.8,751.5 1037.5,746.7 1037.8,745.0C1038.1,743.3 1038.6,745.4 1039.0,737.0C1039.4,728.6 1040.9,686.5 1041.4,673.4C1041.9,660.3 1042.9,624.5 1043.4,624.5C1043.9,624.5 1045.2,663.4 1045.8,673.4C1046.4,683.4 1047.7,703.6 1048.3,710.0C1048.9,716.4 1050.1,729.8 1050.7,728.4C1051.3,727.0 1052.7,702.9 1053.2,697.8C1053.7,692.7 1054.7,685.5 1055.1,684.4C1055.5,683.3 1056.0,687.0 1056.3,688.0C1056.6,689.0 1057.1,692.6 1057.6,693.0C1058.1,693.4 1059.9,694.0 1060.5,691.7C1061.1,689.4 1062.4,678.0 1062.9,673.4C1063.4,668.8 1064.6,651.7 1065.1,652.6C1065.6,653.5 1066.6,674.4 1067.1,680.7C1067.6,687.0 1068.5,701.8 1069.0,706.4C1069.5,711.0 1070.9,720.3 1071.5,720.3C1072.1,720.3 1073.3,708.7 1073.9,706.4C1074.5,704.1 1076.4,700.7 1076.9,700.8C1077.4,700.9 1077.9,705.8 1078.2,707.0C1078.5,708.2 1079.3,710.6 1079.6,711.3C1079.9,712.0 1080.5,712.0 1080.8,713.0C1081.1,714.0 1082.0,717.4 1082.5,719.8C1083.0,722.2 1084.4,731.3 1084.9,733.3C1085.4,735.3 1086.1,735.6 1086.5,737.0C1086.9,738.4 1088.2,744.6 1088.6,745.5C1089.0,746.4 1089.7,744.6 1090.0,745.0C1090.3,745.4 1091.1,747.6 1091.5,749.2C1091.9,750.8 1093.1,758.6 1093.5,759.0C1093.9,759.4 1094.9,753.2 1095.2,752.9C1095.5,752.5 1096.0,755.7 1096.3,756.0C1096.6,756.3 1097.4,754.7 1097.7,755.3C1098.0,755.9 1098.9,759.9 1099.3,761.0C1099.7,762.1 1100.5,764.9 1100.8,765.1C1101.1,765.3 1101.9,763.0 1102.3,763.0C1102.7,763.0 1103.7,763.9 1104.0,765.1C1104.3,766.3 1105.0,771.4 1105.3,773.0C1105.6,774.6 1106.2,778.3 1106.5,778.5C1106.8,778.7 1107.4,775.3 1107.7,775.0C1108.0,774.7 1108.6,775.3 1108.9,776.1C1109.2,776.9 1110.2,782.1 1110.6,782.2C1111.0,782.3 1112.2,776.2 1112.6,776.6C1113.0,777.0 1113.8,785.2 1114.3,785.9C1114.8,786.6 1116.2,781.3 1116.7,782.2C1117.2,783.1 1117.9,792.6 1118.4,793.2C1118.9,793.8 1120.4,786.2 1120.9,787.1C1121.4,788.0 1122.5,799.6 1122.9,800.5C1123.3,801.4 1124.2,794.5 1124.6,794.4C1125.0,794.3 1126.0,799.2 1126.5,799.3C1127.0,799.4 1127.9,795.4 1128.5,795.6C1129.1,795.8 1130.8,800.7 1131.4,801.0C1132.0,801.3 1132.9,798.2 1133.3,798.0C1133.7,797.8 1134.7,800.0 1135.1,799.3C1135.5,798.6 1136.4,791.7 1136.8,792.0C1137.2,792.3 1138.3,800.9 1138.7,801.8C1139.1,802.7 1140.1,800.0 1140.5,800.0C1140.9,800.0 1141.9,802.5 1142.4,801.8C1142.9,801.1 1144.4,794.4 1144.9,794.4C1145.4,794.4 1146.2,802.2 1146.6,801.8C1147.0,801.4 1147.7,796.8 1148.0,790.8C1148.3,784.8 1148.6,760.6 1148.9,750.0C1149.2,739.4 1150.0,709.1 1150.3,700.0C1150.6,690.9 1151.3,672.2 1151.6,672.2C1151.9,672.2 1152.6,690.9 1152.9,700.0C1153.2,709.1 1154.1,738.7 1154.4,750.1C1154.8,761.5 1155.6,792.0 1155.9,798.1C1156.2,804.2 1156.9,802.6 1157.2,802.0C1157.5,801.4 1158.5,793.5 1158.8,792.8C1159.1,792.1 1159.9,795.9 1160.2,796.0C1160.5,796.1 1161.3,793.9 1161.6,794.0C1161.9,794.1 1162.6,796.6 1162.9,796.5C1163.2,796.4 1163.8,792.6 1164.2,792.8C1164.6,793.0 1165.6,797.2 1166.0,798.0C1166.4,798.8 1167.5,799.5 1168.0,800.0C1168.5,800.5 1169.5,802.2 1170.0,802.0C1170.5,801.8 1171.5,798.8 1172.0,798.0C1172.5,797.2 1173.6,795.3 1174.0,795.4C1174.4,795.5 1175.4,798.2 1175.8,799.0C1176.2,799.8 1177.0,803.2 1177.5,802.0C1178.0,800.8 1179.4,790.5 1179.9,788.8C1180.4,787.1 1181.6,790.0 1182.0,787.4C1182.4,784.8 1183.2,767.2 1183.6,766.6C1184.0,766.0 1184.9,780.6 1185.2,782.1C1185.5,783.6 1186.3,778.8 1186.6,779.4C1186.9,780.0 1187.6,785.4 1187.9,787.0C1188.2,788.6 1188.8,791.0 1189.2,792.8C1189.6,794.5 1191.0,801.7 1191.4,802.0C1191.8,802.3 1192.5,796.4 1192.8,795.0C1193.1,793.6 1193.6,789.3 1194.0,790.1C1194.4,790.9 1195.5,801.2 1195.9,802.0C1196.3,802.8 1197.0,798.0 1197.3,797.0C1197.6,796.0 1198.2,792.7 1198.6,793.3C1199.0,793.9 1200.2,801.2 1200.7,802.0C1201.2,802.8 1202.5,800.1 1203.0,800.0C1203.5,799.9 1204.9,802.3 1205.4,801.5C1205.9,800.7 1206.9,792.9 1207.4,792.8C1207.9,792.7 1209.4,801.4 1210.0,800.8C1210.6,800.2 1212.2,799.5 1212.7,787.4C1213.2,775.3 1213.8,713.9 1214.2,696.7C1214.6,679.5 1215.5,650.4 1215.8,640.0C1216.1,629.6 1216.7,607.3 1217.0,607.3C1217.3,607.3 1217.9,629.6 1218.2,640.0C1218.5,650.4 1219.6,680.7 1219.9,696.7C1220.2,712.7 1220.8,766.5 1221.2,776.8C1221.6,787.1 1223.0,783.5 1223.4,784.8C1223.8,786.1 1224.4,786.8 1224.7,788.0C1225.0,789.2 1225.7,795.2 1226.0,795.4C1226.3,795.6 1226.8,791.1 1227.1,790.0C1227.4,788.9 1228.0,786.2 1228.2,786.1C1228.4,786.0 1228.9,788.4 1229.1,789.0C1229.3,789.6 1229.8,791.9 1230.0,791.4C1230.2,790.9 1230.8,786.2 1231.1,785.0C1231.4,783.8 1231.8,781.9 1232.2,780.8C1232.6,779.7 1233.8,774.9 1234.3,775.4C1234.8,775.9 1235.7,781.7 1236.2,784.8C1236.7,787.9 1237.9,801.4 1238.3,802.0C1238.7,802.6 1239.2,792.3 1239.5,790.0C1239.8,787.7 1240.4,782.8 1240.7,782.1C1241.0,781.4 1241.7,784.6 1242.0,784.0C1242.3,783.4 1243.1,777.3 1243.4,776.8C1243.7,776.3 1244.5,778.9 1244.8,780.0C1245.1,781.1 1245.7,788.0 1246.1,786.1C1246.5,784.2 1247.7,766.8 1248.2,763.4C1248.7,760.0 1249.6,755.9 1250.1,756.8C1250.6,757.7 1251.7,771.6 1252.2,771.4C1252.7,771.2 1253.7,758.3 1254.1,755.4C1254.5,752.5 1255.0,745.0 1255.4,746.9C1255.8,748.8 1256.8,767.0 1257.3,771.4C1257.8,775.8 1258.9,781.2 1259.4,784.8C1259.9,788.4 1261.1,800.8 1261.5,802.0C1261.9,803.2 1262.5,796.7 1262.8,795.0C1263.1,793.3 1263.9,788.0 1264.2,787.4C1264.5,786.8 1265.4,790.0 1265.8,790.0C1266.2,790.0 1267.0,788.2 1267.4,787.4C1267.8,786.6 1268.8,782.8 1269.3,783.4C1269.8,784.0 1270.9,792.3 1271.4,792.8C1271.9,793.3 1272.8,786.3 1273.3,787.4C1273.8,788.5 1274.9,800.3 1275.4,802.0C1275.9,803.7 1277.0,803.2 1277.5,802.0C1278.0,800.8 1279.5,791.9 1280.0,791.4C1280.5,790.9 1281.2,798.3 1281.6,798.0C1282.0,797.7 1283.0,790.2 1283.4,788.8C1283.8,787.4 1284.8,784.6 1285.3,786.1C1285.8,787.6 1286.9,801.2 1287.4,802.0C1287.9,802.8 1289.1,792.8 1289.6,792.8C1290.1,792.8 1291.5,801.4 1292.0,802.0C1292.5,802.6 1293.5,798.1 1294.1,798.1C1294.7,798.1 1296.1,801.2 1296.8,801.6C1297.5,802.0 1297.1,801.8 1300.0,801.8C1302.9,801.8 1319.1,802.1 1322.0,801.9C1324.9,801.7 1324.2,800.0 1324.8,800.0C1325.4,800.0 1324.5,801.7 1327.0,801.9C1329.5,802.1 1343.5,802.1 1346.0,801.9C1348.5,801.7 1348.2,800.0 1348.8,800.0C1349.4,800.0 1347.4,801.7 1351.0,801.9C1354.6,802.1 1376.2,801.9 1379.5,801.9" stroke="#4472c4" stroke-width="2.6" fill="none" stroke-linejoin="round" stroke-linecap="round"/>
<path d="M163.0,802.0C174.0,802.0 217.8,802.3 229.0,802.0C240.2,801.7 229.9,801.3 230.5,800.0C231.1,798.7 231.9,794.2 232.5,794.0C233.1,793.8 233.8,797.5 234.3,798.5C234.8,799.5 235.1,800.0 235.5,800.0C235.9,800.0 236.5,799.2 237.0,798.5C237.5,797.8 238.0,795.9 238.5,796.0C239.0,796.1 239.5,798.3 240.0,799.0C240.5,799.7 240.8,800.3 241.5,800.0C242.2,799.7 243.2,796.9 243.9,797.0C244.6,797.1 245.2,799.8 245.8,800.5C246.4,801.2 246.5,801.2 247.5,801.5C248.5,801.8 238.4,801.9 252.0,802.0C265.6,802.1 316.2,802.0 329.0,802.0" stroke="#ed7d31" stroke-width="2.2" fill="none" stroke-linejoin="round"/>
<path d="M385.0,607.3C394.2,607.3 426.5,607.3 440.0,607.3C453.5,607.3 461.2,607.5 466.0,607.3C470.8,607.1 468.2,606.8 469.0,606.3C469.8,605.8 470.3,604.6 471.0,604.6C471.7,604.6 472.2,605.8 473.0,606.3C473.8,606.8 472.5,607.1 476.0,607.3C479.5,607.5 490.6,607.7 494.0,607.3C497.4,606.9 495.7,606.0 496.5,605.0C497.3,604.0 498.1,601.5 498.9,601.5C499.7,601.5 500.4,604.0 501.3,605.0C502.2,606.0 503.1,607.0 504.0,607.3C504.9,607.6 505.9,607.1 507.0,606.8C508.1,606.5 509.1,605.6 510.3,605.6C511.5,605.6 511.7,606.6 514.0,606.8C516.3,607.0 521.2,607.0 524.0,606.8C526.8,606.6 528.6,605.5 530.9,605.5C533.2,605.5 533.1,606.5 538.0,606.8C542.9,607.1 554.7,607.3 560.0,607.3C565.3,607.3 567.6,607.2 570.0,607.0C572.4,606.8 572.8,606.0 574.3,606.0C575.8,606.0 575.4,606.8 579.0,607.0C582.6,607.2 592.8,607.8 596.0,607.3C599.2,606.8 597.5,606.0 598.3,604.0C599.1,602.0 600.1,595.5 601.0,595.5C601.9,595.5 603.0,602.1 603.8,604.0C604.6,605.9 605.1,606.6 606.0,607.0C606.9,607.4 608.0,607.0 609.0,606.5C610.0,606.0 611.0,604.2 612.0,604.2C613.0,604.2 613.9,606.5 615.0,606.5C616.1,606.5 617.6,605.6 618.5,604.0C619.4,602.4 619.7,599.2 620.5,597.0C621.3,594.8 622.4,591.2 623.4,591.0C624.4,590.8 625.2,593.9 626.2,595.5C627.2,597.1 628.2,600.5 629.1,600.6C630.0,600.7 630.6,597.9 631.5,596.0C632.4,594.1 633.3,589.1 634.2,589.1C635.1,589.1 636.1,593.4 637.0,596.0C637.9,598.6 638.5,602.8 639.5,604.5C640.5,606.2 641.9,606.2 643.0,606.2C644.1,606.2 645.2,604.3 646.3,604.2C647.4,604.1 648.5,605.9 649.5,605.5C650.5,605.1 651.2,604.2 652.0,602.0C652.8,599.8 653.5,595.7 654.5,592.0C655.5,588.3 656.7,580.2 657.7,580.0C658.8,579.8 659.8,587.2 660.8,591.0C661.8,594.8 662.5,599.9 663.5,602.5C664.5,605.1 665.6,605.7 667.0,606.5C668.4,607.3 666.5,607.2 672.0,607.3C677.5,607.4 685.3,607.3 700.0,607.3C714.7,607.3 740.8,607.3 760.0,607.3C779.2,607.3 804.8,607.3 815.0,607.3C825.2,607.3 819.6,607.7 821.0,607.3C822.4,606.9 822.5,606.3 823.5,605.0C824.5,603.7 825.7,599.6 826.7,599.6C827.8,599.6 828.8,603.7 829.8,605.0C830.8,606.3 827.5,606.9 832.5,607.3C837.5,607.7 852.4,607.3 860.0,607.3C867.6,607.3 874.3,607.5 878.0,607.3C881.7,607.1 880.8,607.2 882.0,606.3C883.2,605.4 884.1,604.1 885.0,602.0C885.9,599.9 886.7,595.6 887.5,593.5C888.3,591.4 889.1,589.4 890.0,589.3C890.9,589.2 891.7,591.6 892.6,593.0C893.5,594.4 894.7,596.8 895.6,597.8C896.5,598.8 897.3,598.5 898.0,599.0C898.7,599.5 899.2,601.6 900.0,601.0C900.8,600.4 901.6,597.8 902.5,595.5C903.4,593.2 904.6,588.0 905.6,587.1C906.6,586.2 907.4,589.0 908.3,590.0C909.2,591.0 910.0,592.3 911.0,593.3C912.0,594.3 913.4,595.0 914.5,595.8C915.6,596.5 916.7,597.9 917.8,597.8C918.9,597.7 919.9,595.3 921.0,595.0C922.1,594.7 923.1,596.5 924.4,596.2C925.7,595.9 927.8,593.3 928.9,593.3C930.0,593.3 930.3,594.9 931.0,596.0C931.7,597.1 932.5,598.8 933.3,600.0C934.1,601.2 935.1,602.3 936.0,603.0C936.9,603.7 937.7,604.3 938.9,604.4C940.1,604.5 941.6,603.3 943.3,603.6C945.0,603.9 946.9,605.4 948.9,606.0C950.9,606.6 952.5,606.8 955.0,607.0C957.5,607.2 961.9,607.3 964.0,607.0C966.1,606.7 966.2,606.1 967.5,605.0C968.8,603.9 970.4,600.7 971.6,600.4C972.8,600.1 973.5,602.1 974.5,603.0C975.5,603.9 976.5,605.8 977.6,605.8C978.7,605.8 979.8,604.1 981.0,603.0C982.2,601.9 983.7,600.5 984.6,599.2C985.5,597.9 986.0,597.4 986.6,595.0C987.2,592.6 987.5,594.2 988.0,585.0C988.5,575.8 988.9,564.2 989.5,540.0C990.1,515.8 990.8,465.9 991.5,440.0C992.2,414.1 993.0,386.2 993.8,384.5C994.5,382.8 995.2,407.4 996.0,430.0C996.8,452.6 997.7,498.3 998.5,520.0C999.3,541.7 1000.2,551.3 1001.0,560.0C1001.8,568.7 1002.5,574.8 1003.3,572.3C1004.0,569.8 1004.8,560.4 1005.5,545.0C1006.2,529.6 1006.8,496.9 1007.5,480.0C1008.2,463.1 1009.0,444.3 1009.7,443.5C1010.5,442.7 1011.2,460.6 1012.0,475.0C1012.8,489.4 1013.7,515.3 1014.5,530.0C1015.3,544.7 1016.2,556.2 1017.0,563.0C1017.8,569.8 1018.5,569.8 1019.2,570.9C1019.9,572.0 1020.6,569.5 1021.2,569.5C1021.8,569.5 1022.3,569.1 1023.0,570.9C1023.7,572.6 1024.5,577.1 1025.3,580.0C1026.1,582.9 1027.0,586.0 1027.9,588.2C1028.8,590.4 1029.5,591.8 1030.5,593.0C1031.5,594.2 1032.8,595.3 1033.7,595.4C1034.6,595.5 1035.3,594.9 1036.0,593.5C1036.7,592.1 1037.0,595.9 1037.6,587.0C1038.2,578.1 1038.8,564.5 1039.5,540.0C1040.2,515.5 1040.8,465.5 1041.5,440.0C1042.2,414.5 1043.0,387.0 1043.8,387.0C1044.5,387.0 1045.3,420.3 1046.0,440.0C1046.7,459.7 1047.4,491.1 1048.0,505.0C1048.6,518.9 1049.2,522.7 1049.8,523.2C1050.4,523.7 1050.9,513.2 1051.5,508.0C1052.1,502.8 1052.7,492.5 1053.3,492.0C1053.9,491.5 1054.6,500.0 1055.2,505.0C1055.8,510.0 1056.4,518.3 1057.0,522.0C1057.6,525.7 1058.2,528.7 1058.8,527.0C1059.4,525.3 1059.9,520.2 1060.5,512.0C1061.1,503.8 1061.8,486.6 1062.5,478.0C1063.2,469.4 1063.9,460.2 1064.6,460.5C1065.3,460.8 1066.0,467.6 1066.8,480.0C1067.6,492.4 1068.4,520.8 1069.3,535.0C1070.2,549.2 1071.3,560.2 1072.1,565.5C1072.9,570.8 1073.4,566.5 1074.0,566.5C1074.6,566.5 1075.0,564.3 1075.6,565.7C1076.2,567.1 1076.9,571.7 1077.6,575.0C1078.3,578.3 1079.0,582.4 1079.9,585.3C1080.8,588.2 1081.8,590.3 1083.0,592.5C1084.2,594.7 1085.6,596.7 1087.1,598.3C1088.6,599.9 1090.1,601.0 1092.0,602.0C1093.9,603.0 1096.0,603.5 1098.7,604.1C1101.4,604.7 1105.1,605.2 1108.0,605.5C1110.9,605.8 1113.3,606.0 1116.0,606.1C1118.7,606.2 1121.8,606.2 1124.0,606.0C1126.2,605.8 1127.8,606.0 1129.0,605.0C1130.2,604.0 1130.8,602.5 1131.5,600.0C1132.2,597.5 1132.7,592.4 1133.2,590.0C1133.8,587.6 1134.2,585.6 1134.8,585.8C1135.4,586.0 1135.9,588.5 1136.6,591.0C1137.3,593.5 1137.8,598.6 1138.8,601.0C1139.8,603.4 1141.6,605.2 1142.7,605.5C1143.8,605.8 1144.5,606.4 1145.2,603.0C1145.9,599.6 1146.4,595.5 1147.0,585.0C1147.6,574.5 1148.1,555.0 1148.7,540.0C1149.3,525.0 1149.9,504.9 1150.5,495.0C1151.1,485.1 1151.7,480.5 1152.3,480.5C1152.9,480.5 1153.6,485.1 1154.2,495.0C1154.8,504.9 1155.4,525.8 1156.0,540.0C1156.6,554.2 1157.1,570.7 1157.6,580.0C1158.1,589.3 1158.7,592.5 1159.2,596.0C1159.7,599.5 1160.0,599.8 1160.8,600.7C1161.6,601.6 1163.0,601.3 1164.0,601.5C1165.0,601.7 1165.9,601.7 1167.0,602.0C1168.1,602.3 1169.5,603.4 1170.7,603.3C1171.9,603.2 1172.9,601.9 1174.0,601.5C1175.1,601.1 1176.3,601.8 1177.3,600.7C1178.3,599.6 1178.9,597.0 1180.0,595.0C1181.1,593.0 1182.8,589.5 1184.0,588.7C1185.2,588.0 1185.9,589.4 1187.0,590.5C1188.1,591.6 1189.4,593.6 1190.7,595.3C1192.0,597.0 1193.5,598.9 1195.0,600.5C1196.5,602.1 1198.5,604.3 1200.0,604.7C1201.5,605.1 1202.7,603.7 1204.0,603.0C1205.3,602.3 1207.0,601.4 1208.0,600.7C1209.0,600.0 1209.4,600.3 1210.0,599.0C1210.6,597.7 1211.0,602.5 1211.5,592.7C1212.0,582.9 1212.5,563.8 1213.0,540.0C1213.5,516.2 1214.1,471.6 1214.8,450.0C1215.5,428.4 1216.2,410.6 1216.9,410.6C1217.6,410.6 1218.3,428.4 1219.0,450.0C1219.7,471.6 1220.2,516.7 1220.8,540.0C1221.4,563.3 1222.1,580.5 1222.7,590.0C1223.3,599.5 1223.8,595.6 1224.5,597.0C1225.2,598.4 1225.8,598.3 1226.7,598.5C1227.6,598.7 1228.9,598.2 1230.0,598.0C1231.1,597.8 1232.3,597.2 1233.3,597.5C1234.3,597.8 1235.2,599.0 1236.0,599.5C1236.8,600.0 1237.3,600.8 1238.1,600.7C1238.9,600.6 1240.0,599.9 1241.0,599.0C1242.0,598.1 1242.8,597.3 1244.0,595.3C1245.2,593.3 1246.5,589.8 1248.0,587.0C1249.5,584.2 1251.9,579.3 1253.3,578.8C1254.7,578.3 1255.4,581.3 1256.5,584.0C1257.6,586.7 1258.9,593.5 1260.0,594.8C1261.1,596.1 1262.0,592.9 1263.0,592.0C1264.0,591.1 1264.9,589.5 1265.9,589.5C1266.9,589.5 1267.8,590.9 1269.0,592.0C1270.2,593.1 1271.9,594.4 1273.3,595.9C1274.7,597.4 1276.2,600.1 1277.3,600.7C1278.4,601.3 1279.1,599.8 1280.0,599.5C1280.9,599.2 1281.2,598.5 1282.7,598.8C1284.2,599.1 1286.6,600.4 1289.0,601.5C1291.4,602.6 1294.8,605.1 1297.3,605.5C1299.8,605.9 1301.3,603.9 1304.0,604.1C1306.7,604.3 1310.0,606.4 1313.3,606.5C1316.6,606.6 1320.4,604.9 1324.0,605.0C1327.6,605.1 1331.5,606.6 1334.7,607.0C1337.9,607.4 1340.1,607.3 1343.0,607.4C1345.9,607.5 1350.5,607.6 1352.0,607.6" stroke="#ff0000" stroke-width="5" fill="none" stroke-linejoin="round" stroke-linecap="round"/>
</svg>
</body></html>
